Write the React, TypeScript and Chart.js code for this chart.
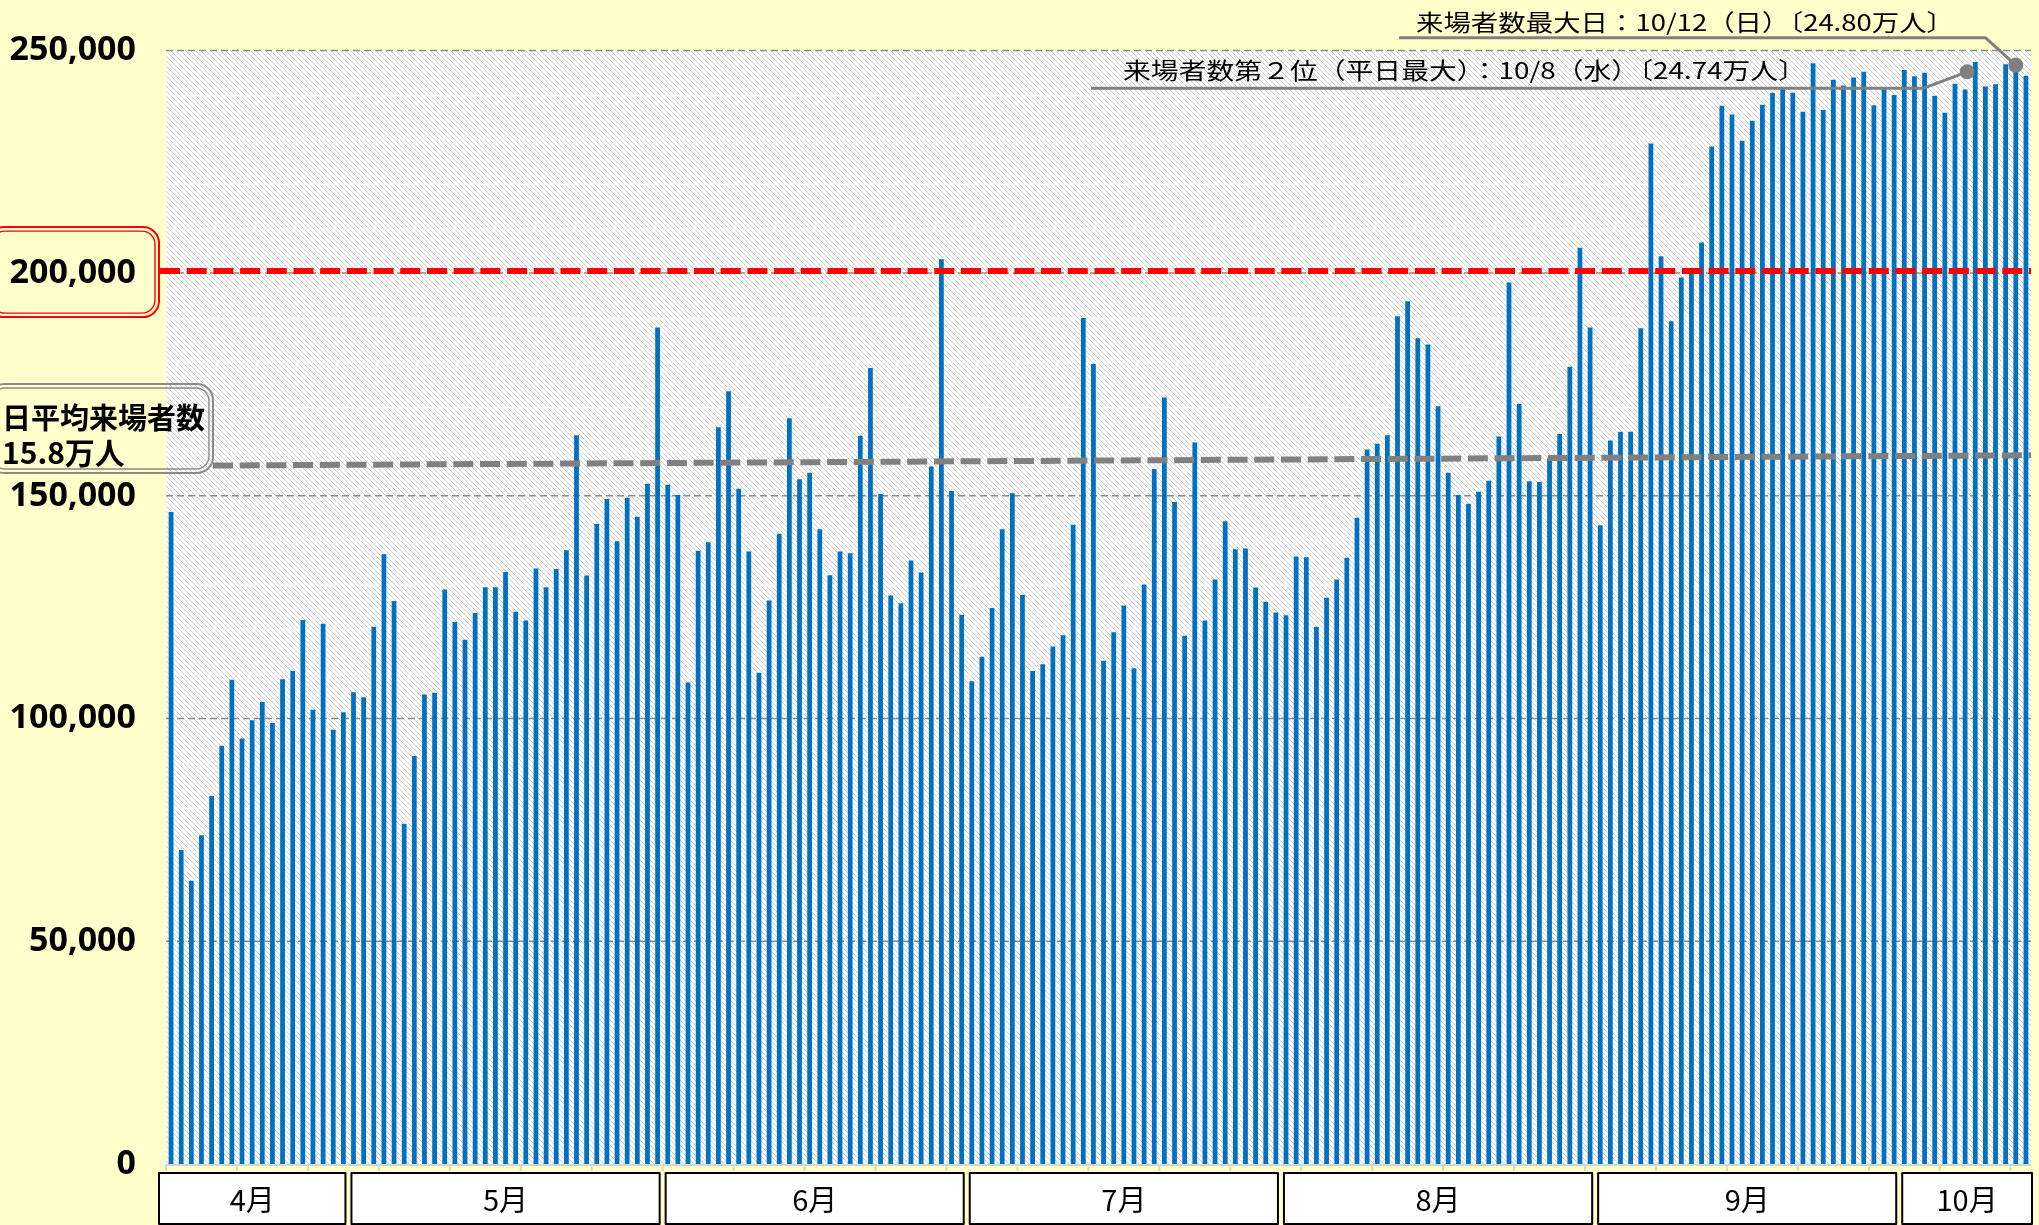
import React, { useEffect, useRef } from 'react';
import { Chart, registerables } from 'chart.js';

Chart.register(...registerables);

// ---------------- data ----------------
const monthLabels = ['4月', '5月', '6月', '7月', '8月', '9月', '10月'];
const monthNumbers = [4, 5, 6, 7, 8, 9, 10];
const monthFirstDay = [13, 1, 1, 1, 1, 1, 1];

const aprilVisitors = [146400, 70500, 63600, 73800, 82600, 93900, 108700, 95500, 99600, 103700, 99000, 108800, 110700, 122100, 102000, 121300, 97500, 101400];
const mayVisitors = [105900, 104800, 120600, 136900, 126400, 76400, 91600, 105400, 105800, 129000, 121700, 117700, 123700, 129500, 129500, 132900, 124000, 122000, 133700, 129500, 133600, 137800, 163600, 132100, 143700, 149300, 139800, 149500, 145300, 152700, 187800];
const juneVisitors = [152500, 150200, 108100, 137700, 139600, 165400, 173500, 151600, 137500, 110300, 126500, 141500, 167400, 153700, 155200, 142500, 132200, 137500, 137100, 163500, 178700, 150400, 127600, 125900, 135500, 132800, 156600, 203100, 151100, 123300];
const julyVisitors = [108400, 113900, 124800, 142500, 150600, 127800, 110700, 112200, 116200, 118700, 143500, 189900, 179600, 113000, 119400, 125400, 111300, 130100, 156000, 172100, 148600, 118600, 162000, 122000, 131200, 144300, 138000, 138200, 129400, 126200, 123800];
const augustVisitors = [123200, 136400, 136200, 120600, 127100, 131200, 136100, 145100, 160400, 161700, 163600, 190300, 193700, 185400, 184000, 170100, 155200, 150200, 148200, 150900, 153400, 163300, 197900, 170600, 153300, 153100, 158400, 163900, 179000, 205700, 187800];
const septemberVisitors = [143400, 162400, 164400, 164400, 187600, 229100, 203800, 189200, 199000, 201000, 206900, 228400, 237600, 235600, 229700, 234200, 237800, 240500, 241500, 240500, 236200, 247100, 236600, 243400, 242100, 243900, 245200, 237700, 241500, 240000];
const octoberVisitors = [245600, 244200, 245000, 239800, 236000, 242500, 241200, 247400, 241900, 242400, 246900, 248000, 244300];

const monthlySeries = [aprilVisitors, mayVisitors, juneVisitors, julyVisitors, augustVisitors, septemberVisitors, octoberVisitors];
const dailyVisitors: number[] = monthlySeries.flat();

const categories: string[] = [];
monthNumbers.forEach((m, i) => {
  monthlySeries[i].forEach((_, d) => categories.push(`${m}/${monthFirstDay[i] + d}`));
});

const yTickValues = [0, 50000, 100000, 150000, 200000, 250000];
const targetValue = 200500;
const averageLineValues = [156800, 159100];
const averageLabelLines = ['日平均来場者数', '15.8万人'];

const calloutTexts = ['来場者数最大日：10/12（日）〔24.80万人〕', '来場者数第２位（平日最大）：10/8（水）〔24.74万人〕'];
const calloutIndex = [182, 177.2];
const calloutValue = [246700, 245200];

// ---------------- layout / style ----------------
const W = 2039;
const H = 1225;
const BG = '#FFFFCC';
const calloutLayout = [
  { lineStartX: 1399, lineY: 37.7, bendDX: 30.5, textX: 1416, textW: 538, textY: 22 },
  { lineStartX: 1091, lineY: 88.3, bendDX: 44, textX: 1123, textW: 683, textY: 70 },
];

export default function App() {
  const ref = useRef<HTMLCanvasElement>(null);

  useEffect(() => {
    const canvas = ref.current!;
    const pc = document.createElement('canvas');
    pc.width = 5;
    pc.height = 5;
    const pctx = pc.getContext('2d')!;
    pctx.fillStyle = '#ffffff';
    pctx.fillRect(0, 0, 5, 5);
    pctx.strokeStyle = '#d0d0d0';
    pctx.lineWidth = 1;
    pctx.beginPath();
    pctx.moveTo(-1, -1); pctx.lineTo(6, 6);
    pctx.moveTo(-1, 4); pctx.lineTo(1, 6);
    pctx.moveTo(4, -1); pctx.lineTo(6, 1);
    pctx.stroke();
    const hatch = canvas.getContext('2d')!.createPattern(pc, 'repeat')!;

    const decor = {
      id: 'decor',
      beforeDraw(chart: any) {
        const { ctx, chartArea: a } = chart;
        ctx.save();
        ctx.fillStyle = BG;
        ctx.fillRect(0, 0, chart.width, chart.height);
        ctx.fillStyle = hatch;
        ctx.fillRect(a.left, a.top, a.right - a.left, a.bottom - a.top);
        ctx.restore();
      },
      beforeDatasetsDraw(chart: any) {
        const { ctx, chartArea: a, scales } = chart;
        const y = scales.y;
        ctx.save();
        // faint minor lines every 10,000
        ctx.strokeStyle = 'rgba(255,255,255,0.6)';
        ctx.lineWidth = 1.5;
        for (let v = 10000; v < 250000; v += 10000) {
          if (v % 50000 === 0) continue;
          const py = Math.round(y.getPixelForValue(v)) + 0.5;
          ctx.beginPath();
          ctx.moveTo(a.left, py);
          ctx.lineTo(a.right, py);
          ctx.stroke();
        }
        // major dashed grid lines
        ctx.strokeStyle = '#8c8c8c';
        ctx.lineWidth = 1.5;
        ctx.setLineDash([7, 4]);
        yTickValues.forEach((v) => {
          if (v === 0) return;
          const py = y.getPixelForValue(v);
          ctx.beginPath();
          ctx.moveTo(a.left, py);
          ctx.lineTo(a.right, py);
          ctx.stroke();
        });
        ctx.restore();
      },
      afterDatasetsDraw(chart: any) {
        const { ctx, chartArea: a, scales } = chart;
        const x = scales.x;
        const y = scales.y;
        const step = x.getPixelForValue(1) - x.getPixelForValue(0);
        ctx.save();

        // baseline + weekly ticks
        ctx.strokeStyle = '#d6d6d6';
        ctx.lineWidth = 2;
        ctx.beginPath();
        ctx.moveTo(a.left, a.bottom + 1);
        ctx.lineTo(a.right, a.bottom + 1);
        ctx.stroke();
        for (let i = 0; i <= categories.length; i += 7) {
          const px = x.getPixelForValue(i) - step / 2;
          ctx.beginPath();
          ctx.moveTo(px, a.bottom);
          ctx.lineTo(px, a.bottom + 7);
          ctx.stroke();
        }

        // target line (red)
        const yT = y.getPixelForValue(targetValue);
        ctx.strokeStyle = '#FF0000';
        ctx.lineWidth = 6;
        ctx.setLineDash([20, 6.7]);
        ctx.beginPath();
        ctx.moveTo(160, yT);
        ctx.lineTo(a.right, yT);
        ctx.stroke();

        // average line (gray)
        const avgStartX = 213;
        ctx.strokeStyle = '#808080';
        ctx.beginPath();
        ctx.moveTo(avgStartX, y.getPixelForValue(averageLineValues[0]));
        ctx.lineTo(a.right, y.getPixelForValue(averageLineValues[1]));
        ctx.stroke();
        ctx.setLineDash([]);

        // red double box around 200,000
        const y200 = y.getPixelForValue(200000);
        const drawDouble = (l: number, t: number, r: number, b: number, color: string) => {
          ctx.strokeStyle = color;
          ctx.lineWidth = 2;
          ctx.beginPath();
          ctx.roundRect(l, t, r - l, b - t, 16);
          ctx.stroke();
          ctx.lineWidth = 1.4;
          ctx.beginPath();
          ctx.roundRect(l + 4, t + 4, r - l - 8, b - t - 8, 13);
          ctx.stroke();
        };
        drawDouble(-12, y200 - 46, 159, y200 + 44, '#FF0000');

        // average box
        drawDouble(-12, 384, 213, 473, '#8a8a8a');
        ctx.fillStyle = '#000';
        ctx.font = "bold 29px 'Noto Sans CJK JP', sans-serif";
        ctx.textAlign = 'left';
        ctx.textBaseline = 'middle';
        ctx.fillText(averageLabelLines[0], 2, 418);
        ctx.font = "bold 30px 'Noto Sans CJK JP', sans-serif";
        ctx.fillText(averageLabelLines[1], 2, 453);

        ctx.restore();
      },
      afterDraw(chart: any) {
        const { ctx, chartArea: a, scales } = chart;
        const x = scales.x;
        const y = scales.y;
        const step = x.getPixelForValue(1) - x.getPixelForValue(0);
        ctx.save();

        // callouts
        calloutTexts.forEach((txt, k) => {
          const L = calloutLayout[k];
          const dx = x.getPixelForValue(calloutIndex[k]);
          const dy = y.getPixelForValue(calloutValue[k]);
          ctx.strokeStyle = '#808080';
          ctx.lineWidth = 3;
          ctx.lineJoin = 'round';
          ctx.beginPath();
          ctx.moveTo(L.lineStartX, L.lineY);
          ctx.lineTo(dx - L.bendDX, L.lineY);
          ctx.lineTo(dx, dy);
          ctx.stroke();
          ctx.fillStyle = '#808080';
          ctx.beginPath();
          ctx.arc(dx, dy, 7.5, 0, Math.PI * 2);
          ctx.fill();

          ctx.font = "23px 'Noto Sans CJK JP', sans-serif";
          ctx.textBaseline = 'middle';
          ctx.textAlign = 'left';
          const mw = ctx.measureText(txt).width;
          ctx.save();
          ctx.translate(L.textX, L.textY);
          ctx.scale(L.textW / mw, 1);
          ctx.fillStyle = '#000';
          ctx.fillText(txt, 0, 0);
          ctx.restore();
        });

        // month boxes
        let start = 0;
        monthLabels.forEach((lbl, i) => {
          const n = monthlySeries[i].length;
          const end = start + n - 1;
          const left = i === 0 ? a.left - 7 : x.getPixelForValue(start) - step / 2 + 3;
          const right = i === monthLabels.length - 1 ? a.right + 1 : x.getPixelForValue(end) + step / 2 - 3;
          const top = a.bottom + 9;
          const bottom = H - 1;
          ctx.fillStyle = '#ffffff';
          ctx.fillRect(left, top, right - left, bottom - top);
          ctx.strokeStyle = '#000';
          ctx.lineWidth = 2;
          ctx.strokeRect(left, top, right - left, bottom - top);
          ctx.fillStyle = '#000';
          ctx.font = "29px 'Noto Sans CJK JP', sans-serif";
          ctx.textAlign = 'center';
          ctx.textBaseline = 'middle';
          ctx.fillText(lbl, (left + right) / 2, (top + bottom) / 2 + 1);
          start += n;
        });
        ctx.restore();
      },
    };

    const chart = new Chart(canvas, {
      type: 'bar',
      data: {
        labels: categories,
        datasets: [
          {
            label: '来場者数',
            data: dailyVisitors,
            backgroundColor: '#0070C0',
            borderWidth: 0,
            barPercentage: 0.47,
            categoryPercentage: 1.0,
          },
        ],
      },
      options: {
        responsive: false,
        animation: false,
        devicePixelRatio: 1,
        layout: { padding: { top: 47, right: 8, left: 0, bottom: 0 } },
        plugins: { legend: { display: false }, tooltip: { enabled: false } },
        scales: {
          x: {
            type: 'category',
            offset: true,
            grid: { display: false },
            border: { display: false },
            ticks: { display: false },
            afterFit: (s: any) => { s.height = 61; },
          },
          y: {
            min: 0,
            max: 250000,
            grid: { display: false, drawTicks: false },
            border: { display: false },
            ticks: {
              stepSize: 50000,
              padding: 30,
              color: '#000',
              font: { family: "'Noto Sans', sans-serif", size: 34, weight: 'bold' },
              callback: (v: any) => Number(v).toLocaleString('en-US'),
            },
            afterFit: (s: any) => { s.width = 166; },
          },
        },
      } as any,
      plugins: [decor],
    });
    return () => chart.destroy();
  }, []);

  return (
    <div style={{ position: 'fixed', left: 0, top: 0, width: W, height: H, background: BG, overflow: 'hidden' }}>
      <canvas ref={ref} width={W} height={H} style={{ display: 'block', width: W, height: H }} />
    </div>
  );
}
